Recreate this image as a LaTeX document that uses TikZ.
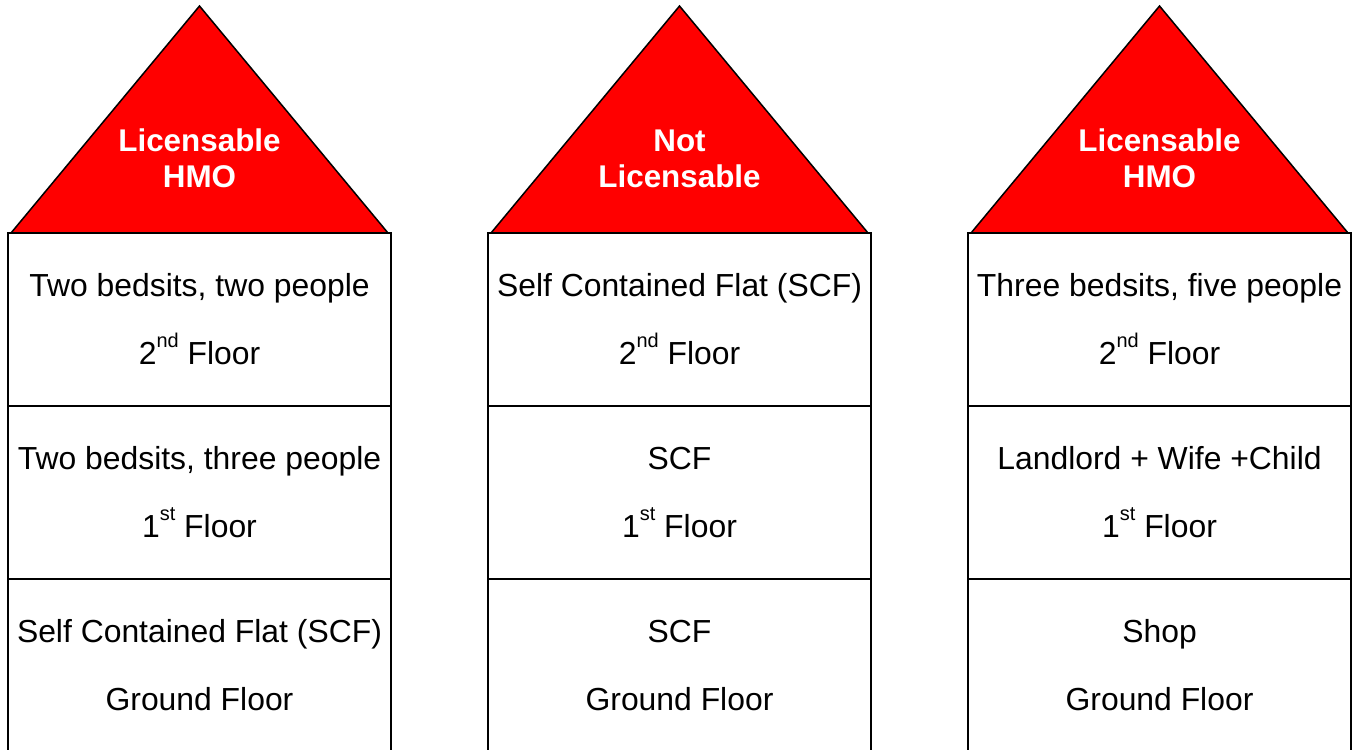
\documentclass[tikz,border=0pt]{standalone}
\usepackage{fontspec}
\setmainfont{Liberation Sans}
\definecolor{roofred}{RGB}{255,0,0}

% Small raised ordinal suffix
\newcommand\ordsuffix[1]{\raisebox{17bp}{\fontsize{20}{20}\selectfont #1}}

% One house: roof triangle with its status, then three storeys
% #1 name prefix, #2 left edge, #3/#4 roof lines, #5..#7 storey texts (top to ground)
\newcommand\drawhouse[7]{%
  \begin{scope}[xshift=#2bp]
    \coordinate (#1-apex) at (191.5,6);
    \coordinate (#1-eaveL) at (3,233);
    \coordinate (#1-eaveR) at (380,233);
    \draw[roof] (#1-eaveL) -- (#1-apex) -- (#1-eaveR) -- cycle;
    \node[rooftext] (#1-r1) at (191.5,151) {#3};
    \node[rooftext] (#1-r2) at (191.5,187) {#4};
    \node[storey] (#1-top) at (191.5,319.5) {};
    \node[storey] (#1-mid) at (191.5,492.5) {};
    \node[storey] (#1-gnd) at (191.5,665.5) {};
    \node[floortext] (#1-t1) at (191.5,296) {#5};
    \node[floortext] (#1-t2) at (191.5,364) {2\ordsuffix{nd} Floor};
    \node[floortext] (#1-m1) at (191.5,469) {#6};
    \node[floortext] (#1-m2) at (191.5,537) {1\ordsuffix{st} Floor};
    \node[floortext] (#1-g1) at (191.5,642) {#7};
    \node[floortext] (#1-g2) at (191.5,710) {Ground Floor};
  \end{scope}}

\begin{document}
\begin{tikzpicture}[x=1bp,y=-1bp,
  roof/.style={draw=black,line width=1.5bp,fill=roofred,line join=miter},
  storey/.style={draw=black,line width=2bp,fill=white,minimum width=383bp,minimum height=173bp,inner sep=0pt},
  floortext/.style={font=\fontsize{32}{38}\selectfont,anchor=base,inner sep=0pt},
  rooftext/.style={font=\fontsize{31.5}{37}\selectfont\bfseries,text=white,anchor=base,inner sep=0pt}]
  \clip (0,0) rectangle (1353,749);
  \fill[white] (0,0) rectangle (1353,749);

  \drawhouse{hA}{8}{Licensable}{HMO}%
    {Two bedsits, two people}{Two bedsits, three people}{Self Contained Flat (SCF)}
  \drawhouse{hB}{488}{Not}{Licensable}%
    {Self Contained Flat (SCF)}{SCF}{SCF}
  \drawhouse{hC}{968}{Licensable}{HMO}%
    {Three bedsits, five people}{Landlord + Wife +Child}{Shop}
\end{tikzpicture}
\end{document}
